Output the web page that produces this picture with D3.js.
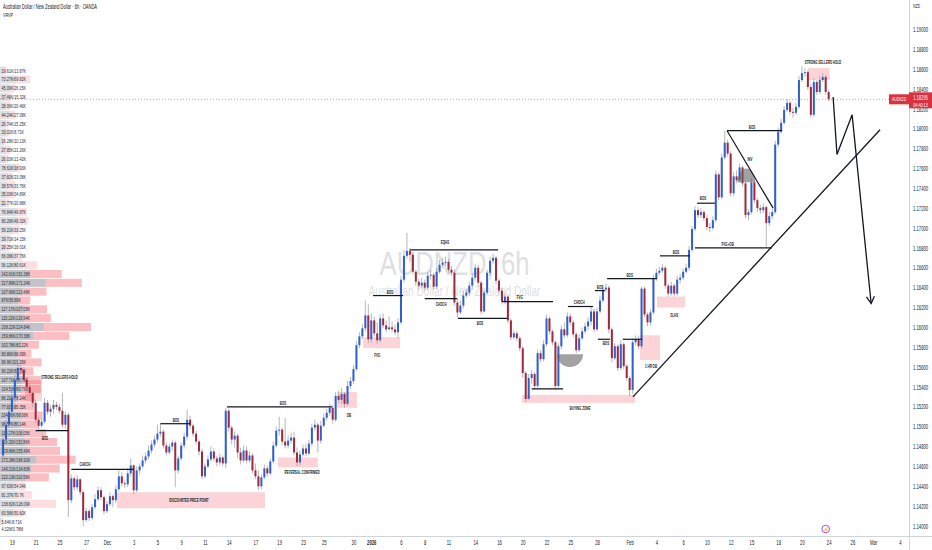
<!DOCTYPE html>
<html>
<head>
<meta charset="utf-8">
<script src="https://cdn.jsdelivr.net/npm/d3@7"></script>
<style>
  body { margin: 0; background: #fff; }
  svg { display: block; font-family: "Liberation Sans", Arial, sans-serif; }
</style>
</head>
<body>
<svg id="chart"></svg>
<script>
// ---- candles (6h bars, open = previous close) ----
let firstOpen = 1.1471
let closes = [
  1.1487,1.1502,1.1515,1.1529,1.1547,1.1559,1.1557,1.1547,1.1540,1.1534,
  1.1524,1.1507,1.1501,1.1505,1.1524,1.1515,1.1518,1.1522,1.1520,1.1516,
  1.1502,1.1512,1.1426,1.1448,1.1439,1.1447,1.1434,1.1406,1.1415,1.1408,
  1.1419,1.1427,1.1436,1.1429,1.1415,1.1422,1.1430,1.1426,1.1437,1.1450,
  1.1443,1.1442,1.1453,1.1461,1.1436,1.1456,1.1460,1.1466,1.1470,1.1476,
  1.1482,1.1487,1.1493,1.1495,1.1481,1.1474,1.1480,1.1484,1.1456,1.1468,
  1.1481,1.1490,1.1507,1.1501,1.1493,1.1485,1.1475,1.1450,1.1460,1.1467,
  1.1475,1.1468,1.1464,1.1469,1.1463,1.1516,1.1499,1.1487,1.1491,1.1474,
  1.1466,1.1476,1.1466,1.1471,1.1456,1.1450,1.1440,1.1449,1.1458,1.1453,
  1.1465,1.1481,1.1496,1.1497,1.1485,1.1481,1.1486,1.1489,1.1474,1.1464,
  1.1472,1.1478,1.1473,1.1483,1.1499,1.1502,1.1486,1.1501,1.1509,1.1514,
  1.1519,1.1507,1.1531,1.1527,1.1533,1.1523,1.1541,1.1546,1.1558,1.1582,
  1.1591,1.1599,1.1612,1.1588,1.1607,1.1594,1.1587,1.1609,1.1602,1.1598,
  1.1600,1.1598,1.1595,1.1605,1.1648,1.1672,1.1677,1.1673,1.1656,1.1646,
  1.1642,1.1645,1.1640,1.1652,1.1653,1.1641,1.1656,1.1663,1.1665,1.1666,
  1.1658,1.1655,1.1625,1.1615,1.1622,1.1632,1.1635,1.1642,1.1650,1.1660,
  1.1645,1.1616,1.1635,1.1655,1.1667,1.1670,1.1647,1.1637,1.1626,1.1631,
  1.1607,1.1590,1.1594,1.1589,1.1579,1.1554,1.1528,1.1549,1.1553,1.1541,
  1.1574,1.1568,1.1583,1.1609,1.1596,1.1585,1.1541,1.1581,1.1598,1.1592,
  1.1611,1.1605,1.1593,1.1577,1.1589,1.1596,1.1601,1.1606,1.1616,1.1598,
  1.1616,1.1627,1.1638,1.1640,1.1598,1.1569,1.1581,1.1559,1.1583,1.1561,
  1.1549,1.1537,1.1585,1.1588,1.1581,1.1639,1.1613,1.1605,1.1615,1.1649,
  1.1655,1.1657,1.1660,1.1642,1.1634,1.1642,1.1634,1.1648,1.1650,1.1656,
  1.1660,1.1678,1.1699,1.1718,1.1713,1.1716,1.1710,1.1701,1.1700,1.1708,
  1.1754,1.1731,1.1771,1.1786,1.1775,1.1735,1.1752,1.1748,1.1761,1.1745,
  1.1713,1.1716,1.1746,1.1728,1.1720,1.1718,1.1721,1.1705,1.1712,1.1716,
  1.1784,1.1797,1.1806,1.1819,1.1826,1.1817,1.1816,1.1822,1.1849,1.1856,
  1.1857,1.1842,1.1814,1.1847,1.1837,1.1849,1.1852,1.1837,1.18296
]
let highs = [
  1.1495,1.1507,1.1522,1.1537,1.1552,1.1565,1.1562,1.1560,1.1550,1.1544,
  1.1535,1.1527,1.1509,1.1508,1.1529,1.1527,1.1522,1.1527,1.1525,1.1523,
  1.1534,1.1515,1.1514,1.1452,1.1450,1.1451,1.1448,1.1436,1.1418,1.1417,
  1.1422,1.1432,1.1440,1.1439,1.1431,1.1425,1.1434,1.1432,1.1441,1.1456,
  1.1454,1.1446,1.1458,1.1468,1.1462,1.1460,1.1463,1.1471,1.1474,1.1481,
  1.1486,1.1491,1.1502,1.1503,1.1497,1.1484,1.1483,1.1487,1.1486,1.1471,
  1.1484,1.1494,1.1517,1.1511,1.1503,1.1496,1.1487,1.1478,1.1463,1.1471,
  1.1480,1.1478,1.1471,1.1473,1.1471,1.1519,1.1518,1.1501,1.1495,1.1493,
  1.1479,1.1481,1.1480,1.1475,1.1473,1.1463,1.1456,1.1452,1.1462,1.1461,
  1.1468,1.1485,1.1500,1.1510,1.1499,1.1509,1.1491,1.1494,1.1495,1.1479,
  1.1476,1.1482,1.1483,1.1487,1.1503,1.1507,1.1504,1.1506,1.1513,1.1518,
  1.1523,1.1522,1.1535,1.1536,1.1539,1.1535,1.1546,1.1550,1.1562,1.1586,
  1.1595,1.1603,1.1627,1.1623,1.1614,1.1611,1.1605,1.1613,1.1614,1.1607,
  1.1611,1.1606,1.1603,1.1609,1.1652,1.1678,1.1695,1.1680,1.1676,1.1658,
  1.1649,1.1650,1.1648,1.1656,1.1658,1.1655,1.1660,1.1668,1.1670,1.1671,
  1.1669,1.1662,1.1658,1.1629,1.1627,1.1636,1.1639,1.1646,1.1654,1.1664,
  1.1663,1.1647,1.1638,1.1658,1.1671,1.1674,1.1672,1.1649,1.1640,1.1634,
  1.1632,1.1609,1.1597,1.1596,1.1591,1.1581,1.1556,1.1553,1.1557,1.1555,
  1.1578,1.1577,1.1587,1.1613,1.1611,1.1598,1.1587,1.1584,1.1602,1.1605,
  1.1615,1.1614,1.1607,1.1595,1.1593,1.1600,1.1605,1.1610,1.1621,1.1619,
  1.1620,1.1632,1.1642,1.1644,1.1642,1.1600,1.1584,1.1583,1.1587,1.1585,
  1.1563,1.1551,1.1589,1.1592,1.1591,1.1641,1.1641,1.1615,1.1618,1.1653,
  1.1659,1.1661,1.1664,1.1662,1.1644,1.1646,1.1644,1.1652,1.1654,1.1659,
  1.1664,1.1682,1.1702,1.1722,1.1721,1.1720,1.1718,1.1713,1.1705,1.1712,
  1.1758,1.1756,1.1775,1.1798,1.1789,1.1777,1.1756,1.1758,1.1765,1.1763,
  1.1747,1.1719,1.1750,1.1748,1.1730,1.1723,1.1725,1.1723,1.1716,1.1719,
  1.1788,1.1801,1.1810,1.1823,1.1830,1.1828,1.1821,1.1826,1.1853,1.1863,
  1.1861,1.1859,1.1845,1.1851,1.1849,1.1853,1.1856,1.1854,1.1839
]
let lows = [
  1.1468,1.1484,1.1499,1.1512,1.1525,1.1543,1.1553,1.1544,1.1537,1.1531,
  1.1520,1.1504,1.1496,1.1499,1.1503,1.1512,1.1510,1.1513,1.1517,1.1513,
  1.1499,1.1498,1.1409,1.1423,1.1436,1.1436,1.1431,1.1400,1.1404,1.1405,
  1.1406,1.1417,1.1425,1.1426,1.1412,1.1413,1.1420,1.1419,1.1423,1.1435,
  1.1440,1.1438,1.1439,1.1450,1.1432,1.1434,1.1452,1.1458,1.1463,1.1467,
  1.1473,1.1479,1.1484,1.1490,1.1478,1.1471,1.1472,1.1476,1.1439,1.1453,
  1.1466,1.1478,1.1487,1.1498,1.1490,1.1482,1.1471,1.1447,1.1448,1.1458,
  1.1465,1.1465,1.1460,1.1461,1.1460,1.1458,1.1495,1.1482,1.1479,1.1468,
  1.1462,1.1464,1.1463,1.1464,1.1453,1.1447,1.1436,1.1437,1.1447,1.1450,
  1.1451,1.1463,1.1479,1.1491,1.1482,1.1478,1.1478,1.1483,1.1471,1.1460,
  1.1461,1.1470,1.1470,1.1471,1.1480,1.1496,1.1474,1.1483,1.1499,1.1506,
  1.1511,1.1503,1.1505,1.1524,1.1523,1.1519,1.1521,1.1538,1.1543,1.1556,
  1.1579,1.1588,1.1596,1.1584,1.1585,1.1591,1.1583,1.1585,1.1599,1.1595,
  1.1597,1.1595,1.1592,1.1589,1.1603,1.1645,1.1669,1.1666,1.1653,1.1642,
  1.1638,1.1639,1.1637,1.1638,1.1648,1.1638,1.1639,1.1654,1.1660,1.1662,
  1.1655,1.1652,1.1622,1.1609,1.1613,1.1619,1.1630,1.1632,1.1638,1.1647,
  1.1642,1.1613,1.1615,1.1633,1.1652,1.1664,1.1644,1.1634,1.1623,1.1623,
  1.1604,1.1587,1.1588,1.1586,1.1576,1.1549,1.1525,1.1527,1.1543,1.1538,
  1.1539,1.1565,1.1566,1.1581,1.1593,1.1582,1.1537,1.1539,1.1578,1.1589,
  1.1590,1.1602,1.1590,1.1574,1.1575,1.1587,1.1594,1.1597,1.1602,1.1595,
  1.1596,1.1614,1.1625,1.1635,1.1594,1.1565,1.1567,1.1556,1.1557,1.1558,
  1.1546,1.1531,1.1533,1.1582,1.1578,1.1579,1.1610,1.1601,1.1602,1.1613,
  1.1647,1.1653,1.1655,1.1639,1.1631,1.1632,1.1631,1.1632,1.1644,1.1648,
  1.1654,1.1657,1.1676,1.1697,1.1710,1.1710,1.1707,1.1698,1.1696,1.1698,
  1.1706,1.1728,1.1729,1.1769,1.1772,1.1732,1.1732,1.1745,1.1746,1.1742,
  1.1710,1.1708,1.1714,1.1725,1.1716,1.1714,1.1715,1.1681,1.1702,1.1709,
  1.1714,1.1781,1.1795,1.1804,1.1817,1.1814,1.1811,1.1814,1.1820,1.1847,
  1.1852,1.1839,1.1811,1.1812,1.1834,1.1835,1.1847,1.1834,1.1828
]

// ---- axes ----
let tickBars = [3, 11, 19, 28, 35, 44, 52, 60, 68, 76, 85, 93, 101, 108, 118, 124, 134, 142, 150, 159,
                167, 175, 183, 191, 200, 211, 220, 229, 237, 245, 252, 261, 269, 278, 286, 293, 302]
let tickLabels = ['19', '21', '25', '27', 'Dec', '3', '5', '9', '11', '14', '17', '19', '23', '25', '30', '2026', '6', '8', '11', '14',
                  '16', '20', '22', '25', '28', 'Feb', '4', '6', '10', '12', '15', '18', '20', '24', '26', 'Mar', '4']
let priceTicks = [1.19, 1.188, 1.186, 1.184, 1.182, 1.18, 1.178, 1.176, 1.174, 1.172, 1.17, 1.168, 1.166,
                  1.164, 1.162, 1.16, 1.158, 1.156, 1.154, 1.152, 1.15, 1.148, 1.146, 1.144, 1.142, 1.14]

// ---- visible range volume profile, rows top -> bottom (K) ----
let upVol = [19.61, 73.27, 45.09, 37.46, 28.06, 44.24, 26.74, 33.02, 16.28, 27.85, 26.03, 78.61, 37.82,
             38.57, 35.03, 22.77, 76.84, 86.26, 59.21, 39.71, 28.25, 66.06, 96.12, 142.61, 217.89, 107.66,
             87.00, 117.17, 115.22, 208.22, 159.86, 102.78, 80.86, 96.90, 96.22, 107.71, 104.53, 86.22, 77.82,
             104.86, 98.57, 114.27, 119.32, 129.86, 172.28, 149.21, 122.13, 67.63, 81.37, 138.82, 63.56, 5.84]
let downVol = [13.87, 69.82, 26.15, 15.32, 20.46, 27.08, 15.25, 8.71, 10.13, 21.26, 13.42, 18.93, 23.08,
               33.76, 34.89, 20.88, 49.87, 49.32, 33.25, 14.15, 18.01, 37.76, 80.61, 151.38, 171.24, 113.48,
               56.89, 107.05, 126.94, 224.84, 170.38, 82.22, 68.09, 101.26, 63.16, 86.79, 89.76, 78.24, 85.35,
               98.08, 86.14, 106.05, 152.86, 155.49, 186.92, 134.83, 110.56, 54.04, 70.70, 128.09, 50.82, 8.71]

// ---- drawings: levels [startBar, endBar, price], tag [bar, price] ----
let levelNames  = ['BOS', 'CHOCH', 'BOS', 'BOS', 'BOS', 'EQHS', 'CHOCH', 'BOS', 'FVG', '', 'CHOCH', 'BOS',
                   'BOS', 'BOS', '', 'BOS', 'BOS', 'FVG+OB', 'BOS']
let levelStart  = [11, 23, 53, 75.4, 124.6, 137, 142, 153.2, 168, 178, 190.2, 199.3, 200.3, 203.4, 208.7, 221.2, 233.7, 233, 243.8]
let levelEnd    = [22, 44, 63, 110.8, 134.7, 166.7, 152.9, 169.7, 185.2, 188.6, 198.7, 202.7, 204.4, 220.2, 215.2, 231.3, 239.7, 258.9, 262.3]
let levelPrice  = [1.1496, 1.1457, 1.1503, 1.1520, 1.1632, 1.1678, 1.1629, 1.1609, 1.1626, 1.1538, 1.1621, 1.1637,
                   1.1588, 1.1649, 1.1588, 1.1672, 1.1725, 1.1680, 1.1798]
let levelTagBar   = [14.1, 27.6, 58.2, 94.3, 130.3, 148.8, 147.5, 160.6, 174, 0, 194, 201, 203, 211, 0, 226.6, 235.7, 244, 252.2]
let levelTagPrice = [1.1487, 1.1460, 1.1505, 1.1522, 1.1634, 1.1684, 1.1622, 1.1602, 1.1629, 0, 1.1624, 1.1639,
                     1.1582, 1.1651, 0, 1.1674, 1.1728, 1.1682, 1.1800]

let zoneNames  = ['STRONG SELLERS HOLD', 'DISCOUNTED PRICE POINT', 'REVERSAL CONFIRMED', 'OB', 'FVG',
                  'BUYING ZONE', '1 HR OB', 'SLHS', 'STRONG SELLERS HOLD']
let zoneStart  = [7.4, 38.4, 92.6, 112.5, 121.2, 174.7, 214.5, 220.2, 271]
let zoneEnd    = [13.1, 88.2, 106, 119.2, 133.7, 212.8, 221.2, 229.6, 278.3]
let zoneTop    = [1.1547, 1.1434, 1.1469, 1.1535, 1.1590, 1.1532, 1.1592, 1.1631, 1.1861]
let zoneBottom = [1.1526, 1.1418, 1.1459, 1.1519, 1.1579, 1.1524, 1.1567, 1.1620, 1.1849]
let zoneTagBar   = [19, 62.6, 100.7, 116.5, 126, 194.3, 218.2, 226, 276.1]
let zoneTagPrice = [1.1548, 1.1424, 1.1452, 1.1510, 1.1570, 1.1517, 1.1559, 1.1610, 1.1865]

// bowl shapes: [centerBar, price of flat edge, half width in bars, depth in price, +1 down / -1 up]
let bowls = [[190.9, 1.1573, 4.4, 0.0013, 1], [250.3, 1.1746, 3.0, 0.0014, -1]]
let invLine = [[243.8, 1.1798], [259.3, 1.1720]]
let invTag = [251.5, 1.1767]
let trendLine = [[212.1, 1.1530], [295.3, 1.1799]]
let projection = [[279.5, 1.1832], [280.8, 1.1774], [285.9, 1.1814], [292.3, 1.1624]]

// ---- layout ----
let width = 932
let height = 550
let plotW = 909
let plotH = 536
let SX = 0.62

let svg = d3.select('#chart').attr('width', width).attr('height', height)
svg.append('rect').attr('width', width).attr('height', height).attr('fill', '#ffffff')
svg.append('defs').append('clipPath').attr('id', 'clip')
   .append('rect').attr('width', plotW).attr('height', plotH)

let xScale = d3.scaleLinear().domain([0, 302]).range([3, 3 + 302 * 2.97])
let yScale = d3.scaleLinear().domain([1.14, 1.19]).range([526, 29.4])

let label = (g, x, y, s, o = {}) => {
    return g.append('text')
            .attr('transform', 'translate(' + x + ',' + y + ') scale(' + (o.sx || SX) + ',1)')
            .attr('text-anchor', o.anchor || 'start')
            .attr('font-size', o.size || 5)
            .attr('font-weight', o.weight || 'normal')
            .attr('fill', o.fill || '#131722')
            .text(s)
}

let plot = svg.append('g').attr('clip-path', 'url(#clip)')

// watermark
plot.append('text')
    .attr('x', plotW / 2).attr('y', plotH / 2 + 7)
    .attr('text-anchor', 'middle').attr('font-size', 34).attr('fill', '#dedfe3')
    .attr('textLength', 150).attr('lengthAdjust', 'spacingAndGlyphs')
    .text('AUDNZD, 6h')
plot.append('text')
    .attr('x', plotW / 2).attr('y', plotH / 2 + 28)
    .attr('text-anchor', 'middle').attr('font-size', 15).attr('fill', '#dedfe3')
    .attr('textLength', 172).attr('lengthAdjust', 'spacingAndGlyphs')
    .text('Australian Dollar / New Zealand Dollar')

// zones
zoneNames.forEach((name, i) => {
    plot.append('rect')
        .attr('x', xScale(zoneStart[i]))
        .attr('y', yScale(zoneTop[i]))
        .attr('width', xScale(zoneEnd[i]) - xScale(zoneStart[i]))
        .attr('height', yScale(zoneBottom[i]) - yScale(zoneTop[i]))
        .attr('fill', 'rgba(242,54,69,0.22)')
})

// volume profile
let totVol = upVol.map((u, i) => u + downVol[i])
let poc = d3.maxIndex(totVol)
let vaLo = poc, vaHi = poc, vaAcc = totVol[poc]
let vaTarget = d3.sum(totVol) * 0.7
while (vaAcc < vaTarget && (vaLo > 0 || vaHi < totVol.length - 1)) {
    let a = vaLo > 0 ? totVol[vaLo - 1] : -1
    let b = vaHi < totVol.length - 1 ? totVol[vaHi + 1] : -1
    if (a >= b) { vaLo--; vaAcc += a } else { vaHi++; vaAcc += b }
}
let pHigh = d3.max(highs)
let pLow = d3.min(lows)
let rowH = (pHigh - pLow) / upVol.length
let vScale = d3.scaleLinear().domain([0, d3.max(totVol)]).range([0, 91])
let vrvp = plot.append('g')
let fmtK = v => String(+v.toFixed(2)) + 'K'
upVol.forEach((u, k) => {
    let y0 = yScale(pHigh - k * rowH)
    let y1 = yScale(pHigh - (k + 1) * rowH)
    let inVA = k >= vaLo && k <= vaHi
    vrvp.append('rect').attr('x', 0).attr('y', y0 + 0.4)
        .attr('width', vScale(u)).attr('height', y1 - y0 - 0.8)
        .attr('fill', inVA ? 'rgba(120,123,134,0.45)' : 'rgba(120,123,134,0.25)')
    vrvp.append('rect').attr('x', vScale(u)).attr('y', y0 + 0.4)
        .attr('width', vScale(downVol[k])).attr('height', y1 - y0 - 0.8)
        .attr('fill', inVA ? 'rgba(242,54,69,0.32)' : 'rgba(242,54,69,0.16)')
    label(vrvp, 1.5, (y0 + y1) / 2 + 2, fmtK(u) + '/' + fmtK(downVol[k]), {size: 6, fill: '#2a2e39'})
})
label(vrvp, 1.5, 531, (d3.sum(upVol) / 1000).toFixed(2) + 'M/' + (d3.sum(downVol) / 1000).toFixed(2) + 'M',
      {size: 6, fill: '#2a2e39'})

// last price line
let lastPrice = closes[closes.length - 1]
plot.append('line')
    .attr('x1', 0).attr('x2', plotW)
    .attr('y1', yScale(lastPrice)).attr('y2', yScale(lastPrice))
    .attr('stroke', 'rgba(242,54,69,0.55)').attr('stroke-dasharray', '1,2')

// candles
let bw = (xScale(1) - xScale(0)) * 0.68
let candles = plot.append('g')
closes.forEach((c, i) => {
    let o = i ? closes[i - 1] : firstOpen
    let h = Math.max(highs[i], o, c)
    let l = Math.min(lows[i], o, c)
    let col = c >= o ? '#2f5fd0' : '#a12a3a'
    let x = xScale(i)
    candles.append('line')
           .attr('x1', x).attr('x2', x)
           .attr('y1', yScale(h)).attr('y2', yScale(l))
           .attr('stroke', '#9598a1').attr('stroke-width', 0.7)
    candles.append('rect')
           .attr('x', x - bw / 2).attr('width', bw)
           .attr('y', yScale(Math.max(o, c)))
           .attr('height', Math.max(0.8, Math.abs(yScale(o) - yScale(c))))
           .attr('fill', col)
})

// bowls
let bowlG = plot.append('g')
bowls.forEach(b => {
    let cx = xScale(b[0]), cy = yScale(b[1])
    let rx = xScale(b[2]) - xScale(0), ry = Math.abs(yScale(b[1] + b[3]) - cy)
    let sweep = b[4] > 0 ? 0 : 1
    bowlG.append('path')
         .attr('d', 'M' + (cx - rx) + ',' + cy + ' A' + rx + ',' + ry + ' 0 0 ' + sweep + ' ' + (cx + rx) + ',' + cy + ' Z')
         .attr('fill', 'rgba(100,100,100,0.6)')
})

// level lines and tags
let draw = plot.append('g')
levelNames.forEach((name, i) => {
    draw.append('line')
        .attr('x1', xScale(levelStart[i])).attr('x2', xScale(levelEnd[i]))
        .attr('y1', yScale(levelPrice[i])).attr('y2', yScale(levelPrice[i]))
        .attr('stroke', '#131722').attr('stroke-width', 1.2)
    if (name) {
        label(draw, xScale(levelTagBar[i]), yScale(levelTagPrice[i]), name,
              {anchor: 'middle', size: 4.8, weight: 'bold'})
    }
})
zoneNames.forEach((name, i) => {
    label(draw, xScale(zoneTagBar[i]), yScale(zoneTagPrice[i]), name,
          {anchor: 'middle', size: 4.8, weight: 'bold'})
})

let line = d3.line().x(d => xScale(d[0])).y(d => yScale(d[1]))
draw.append('path').attr('d', line(invLine)).attr('fill', 'none')
    .attr('stroke', '#131722').attr('stroke-width', 1.2)
label(draw, xScale(invTag[0]), yScale(invTag[1]), 'INV', {anchor: 'middle', size: 4.8, weight: 'bold'})

draw.append('path').attr('d', line(trendLine)).attr('fill', 'none')
    .attr('stroke', '#131722').attr('stroke-width', 1.3)

svg.select('defs').append('marker')
   .attr('id', 'arrow').attr('viewBox', '-8 -5 10 10')
   .attr('markerWidth', 10).attr('markerHeight', 10)
   .attr('markerUnits', 'userSpaceOnUse').attr('orient', 'auto')
   .append('path').attr('d', 'M-7,-4 L0,0 L-7,4')
   .attr('fill', 'none').attr('stroke', '#131722').attr('stroke-width', 1.3)
draw.append('path').attr('d', line(projection)).attr('fill', 'none')
    .attr('stroke', '#131722').attr('stroke-width', 1.3)
    .attr('stroke-linejoin', 'miter').attr('marker-end', 'url(#arrow)')

// header
label(svg, 3, 9, 'Australian Dollar / New Zealand Dollar · 6h · OANDA', {size: 6.5})
label(svg, 3, 16.5, 'VRVP', {size: 6})

// axes frame
svg.append('line').attr('x1', 0).attr('x2', width).attr('y1', plotH + 0.5).attr('y2', plotH + 0.5)
   .attr('stroke', '#d1d4dc')
svg.append('line').attr('x1', plotW + 0.5).attr('x2', plotW + 0.5).attr('y1', 0).attr('y2', height)
   .attr('stroke', '#d1d4dc')

let yAxis = d3.axisRight(yScale)
              .tickValues(priceTicks.filter(p => Math.abs(yScale(p) - yScale(lastPrice)) > 9))
              .tickFormat(d3.format('.5f'))
              .tickSize(0)
let yG = svg.append('g').attr('transform', 'translate(' + plotW + ',0)').call(yAxis)
yG.select('.domain').remove()
yG.selectAll('text').attr('font-size', 6.8).attr('fill', '#131722')
  .attr('x', 4 / SX).attr('transform', 'scale(' + SX + ',1)')
label(svg, 913, 8, 'NZD', {size: 5.5})

let xAxis = d3.axisBottom(xScale)
              .tickValues(tickBars)
              .tickFormat((d, i) => tickLabels[i])
              .tickSize(0).tickPadding(4.5)
let xG = svg.append('g').attr('transform', 'translate(0,' + plotH + ')').call(xAxis)
xG.select('.domain').remove()
xG.selectAll('text').attr('font-size', 6.8).attr('fill', '#131722')
  .attr('font-weight', (d, i) => tickLabels[i] === '2026' ? 'bold' : 'normal')
  .attr('transform', 'scale(' + SX + ',1)')
  .attr('x', 0)
xG.selectAll('.tick').filter(d => xScale(d) > plotW - 4).attr('opacity', 1)

// events marker
let evX = xScale(277)
svg.append('circle').attr('cx', evX).attr('cy', 529).attr('r', 3.8)
   .attr('fill', '#fff').attr('stroke', '#9c27b0').attr('stroke-width', 0.8)
label(svg, evX, 531, '⚡', {anchor: 'middle', size: 4.5, fill: '#9c27b0', sx: 1})

// price labels
let py = yScale(lastPrice)
svg.append('rect').attr('x', 889).attr('y', py - 5).attr('width', 20).attr('height', 10).attr('fill', '#d8323f')
label(svg, 899, py + 2, 'AUDNZD', {anchor: 'middle', size: 5.5, fill: '#fff'})
svg.append('rect').attr('x', 909).attr('y', py - 7).attr('width', 23).attr('height', 16).attr('fill', '#d8323f')
label(svg, 920.5, py + 1, d3.format('.5f')(lastPrice), {anchor: 'middle', size: 6.5, fill: '#fff'})
label(svg, 920.5, py + 7.5, '04:40:13', {anchor: 'middle', size: 6, fill: '#fff'})
</script>
</body>
</html>
